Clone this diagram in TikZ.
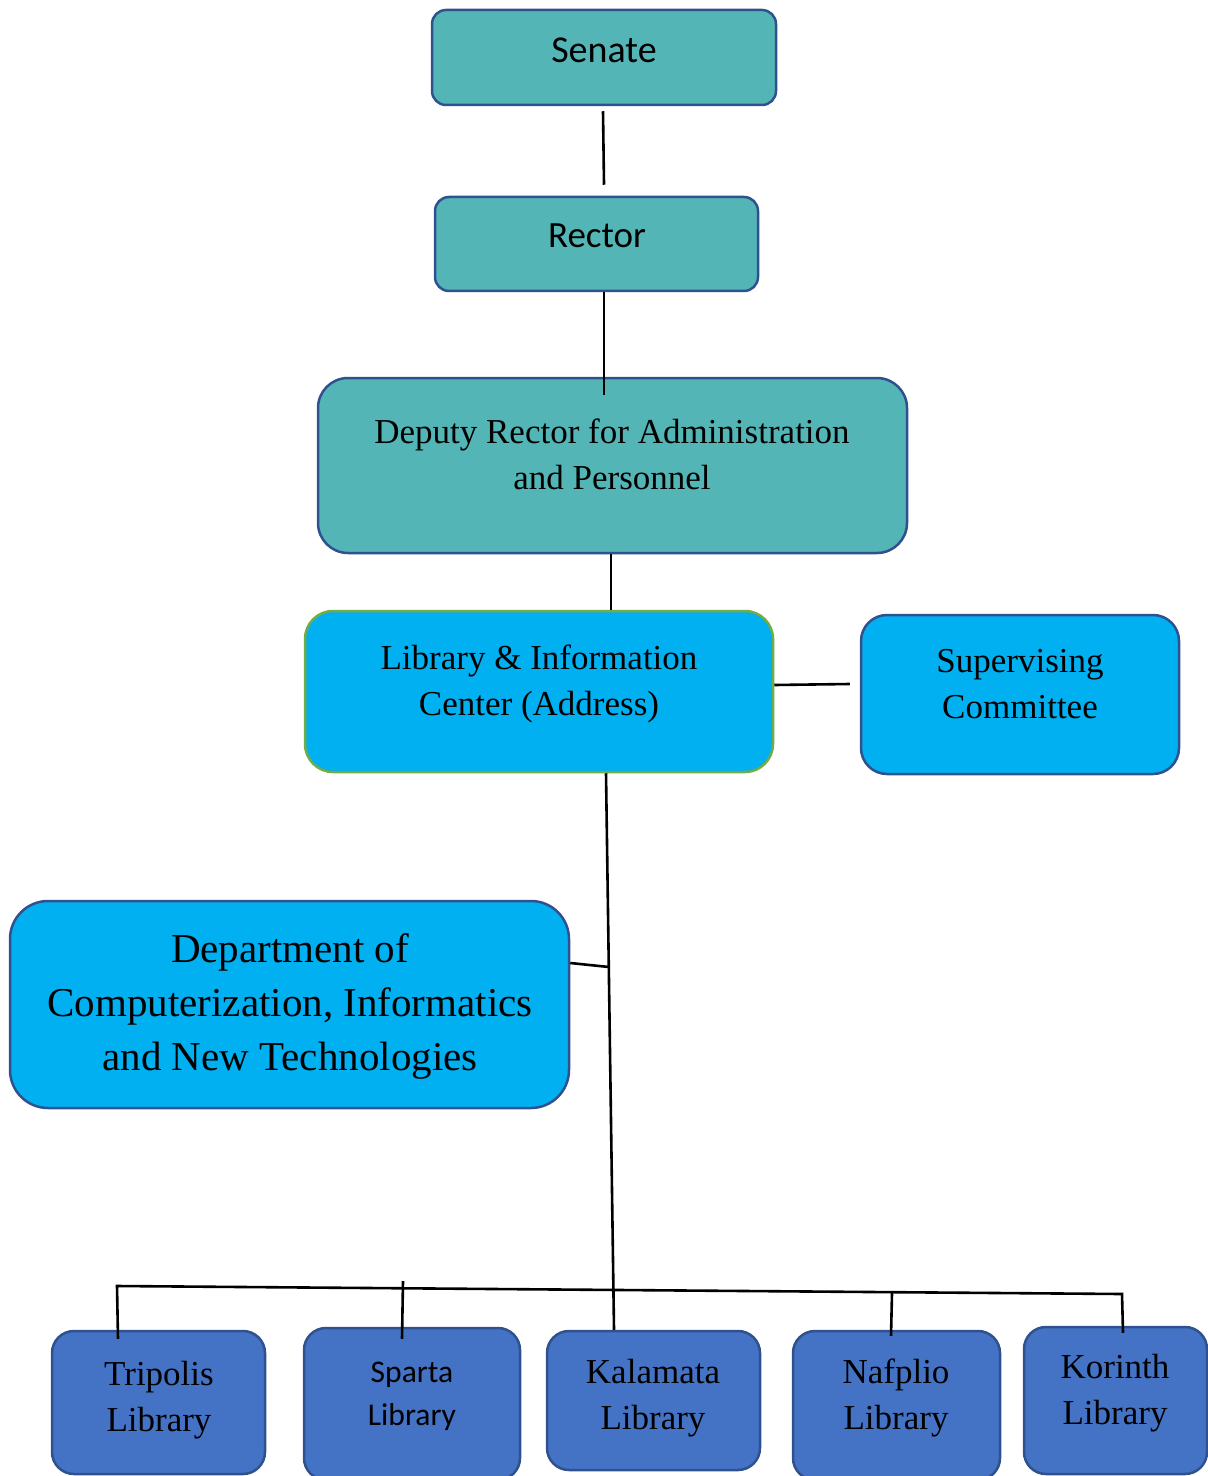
\documentclass[tikz,border=0pt]{standalone}
\usepackage{fontspec}
\setmainfont{Liberation Serif}
\newfontfamily\calibri{Carlito}
\definecolor{tealfill}{RGB}{84,181,182}
\definecolor{darkedge}{RGB}{47,82,143}
\definecolor{greenedge}{RGB}{112,173,71}
\definecolor{skyfill}{RGB}{0,176,240}
\definecolor{libfill}{RGB}{68,114,196}
\tikzset{
  box/.style={draw=darkedge, line width=1.25pt, inner sep=0pt},
  tealbox/.style={box, fill=tealfill},
  skybox/.style={box, fill=skyfill},
  libbox/.style={box, fill=libfill, rounded corners=11pt},
  txt/.style={inner sep=0pt, align=center, anchor=base, text=black},
  serif/.style={font={\fontsize{17.5}{23}\selectfont}},
  conn/.style={draw=black, line width=1.3pt}
}
\begin{document}
\begin{tikzpicture}[x=0.5pt, y=-0.5pt]
\useasboundingbox (0,0) rectangle (1208,1476);
% boxes
\node[tealbox, rounded corners=7pt, minimum width=172pt, minimum height=47.5pt] (senate) at (604,57.5) {};
\node[tealbox, rounded corners=7pt, minimum width=161.5pt, minimum height=47pt] (rector) at (596.5,244) {};
\node[tealbox, rounded corners=15pt, minimum width=294.5pt, minimum height=87.5pt] (deputy) at (612.5,465.5) {};
\node[skybox, draw=greenedge, rounded corners=14pt, minimum width=234pt, minimum height=80.5pt] (libinfo) at (539,691.5) {};
\node[skybox, rounded corners=13pt, minimum width=159pt, minimum height=79.5pt] (superv) at (1020,694.5) {};
\node[skybox, rounded corners=19pt, minimum width=279.5pt, minimum height=103.5pt] (dept) at (289.5,1004.5) {};
\node[libbox, minimum width=106.5pt, minimum height=71.5pt] (tripolis) at (158.5,1402.5) {};
\node[libbox, minimum width=108pt, minimum height=76pt] (sparta) at (412,1404) {};
\node[libbox, minimum width=106.5pt, minimum height=69.5pt] (kalamata) at (653.5,1400.5) {};
\node[libbox, minimum width=103.5pt, minimum height=74.5pt] (nafplio) at (896.5,1405.5) {};
\node[libbox, minimum width=91.5pt, minimum height=73.5pt] (korinth) at (1115.5,1400.5) {};
% texts (anchor = baseline of last line)
\node[txt, font={\calibri\fontsize{19}{23}\selectfont}] (senate-t) at (604,63) {Senate};
\node[txt, font={\calibri\fontsize{18.5}{23}\selectfont}] (rector-t) at (597,248) {Rector};
\node[txt, serif] (deputy-t) at (612,489) {Deputy Rector for Administration\\and Personnel};
\node[txt, serif] (libinfo-t) at (539,715) {Library \& Information\\Center (Address)};
\node[txt, serif] (superv-t) at (1020,718) {Supervising\\Committee};
\node[txt, font={\fontsize{20.5}{27}\selectfont}] (dept-t) at (290,1070) {Department of\\Computerization, Informatics\\and New Technologies};
\node[txt, serif] (tripolis-t) at (159,1431) {Tripolis\\Library};
\node[txt, font={\calibri\fontsize{15.8}{21.5}\selectfont}] (sparta-t) at (412,1425) {Sparta\\Library};
\node[txt, serif] (kalamata-t) at (653,1429) {Kalamata\\Library};
\node[txt, serif] (nafplio-t) at (896,1429) {Nafplio\\Library};
\node[txt, serif] (korinth-t) at (1115,1424) {Korinth\\Library};
% connectors
\draw[conn] ([xshift=-0.5pt,yshift=-2.5pt]senate.south) -- ([xshift=3.75pt,yshift=5.5pt]rector.north);
\draw[conn] ([xshift=3.75pt]rector.south) -- ([xshift=-4.25pt,yshift=-9pt]deputy.north);
\draw[conn] ([xshift=-0.75pt]deputy.south) -- ([xshift=-0.75pt]deputy.south |- libinfo.north);
\draw[conn] ([yshift=3.25pt]libinfo.east) -- ([xshift=-5pt,yshift=5.25pt]superv.west);
\draw[conn] ([xshift=33.5pt]libinfo.south) -- ([xshift=-19.75pt]kalamata.north);
\coordinate (j1) at (609,967);
\draw[conn] ([yshift=20.75pt]dept.east) -- (j1);
\coordinate (busL) at (117,1286);
\coordinate (busR) at (1122,1294);
\draw[conn] ([xshift=-20.25pt,yshift=-4.5pt]tripolis.north) -- (busL) -- (busR) -- ([xshift=3.75pt,yshift=-3.5pt]korinth.north);
\coordinate (spTop) at (403,1281);
\draw[conn] (spTop) -- ([xshift=-5pt,yshift=-6pt]sparta.north);
\coordinate (nfTop) at (892,1293);
\draw[conn] (nfTop) -- ([xshift=-2.75pt,yshift=-3pt]nafplio.north);
\end{tikzpicture}
\end{document}
